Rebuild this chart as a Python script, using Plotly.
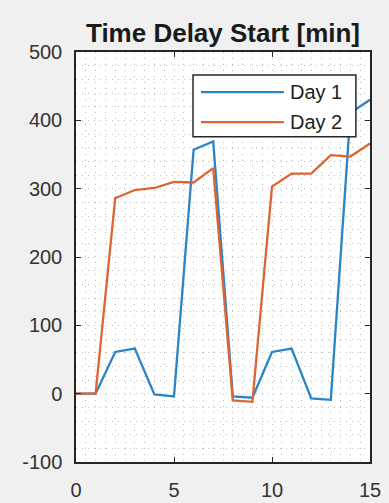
import plotly.graph_objects as go

x = list(range(16))
day1 = [0, 0, 61, 66, -1, -4, 357, 369, -4, -6, 61, 66, -7, -9, 411, 430]
day2 = [0, 0, 286, 298, 301, 310, 309, 330, -10, -12, 303, 322, 322, 349, 347, 366]
series_names = ["Day 1", "Day 2"]
colors = ["#2a84c8", "#de6433"]
title_text = "<b>Time Delay Start [min]</b>"
x_ticks = [0, 5, 10, 15]
y_ticks = [-100, 0, 100, 200, 300, 400, 500]

FONT = "Liberation Sans, Arial, sans-serif"
AX = "#262626"

fig = go.Figure()
for name, ys, c in zip(series_names, [day1, day2], colors):
    fig.add_trace(go.Scatter(x=x, y=ys, mode="lines", name=name,
                             line=dict(color=c, width=2.3), showlegend=False))

axis_common = dict(
    showline=True, linecolor=AX, linewidth=1.5, mirror="ticks",
    ticks="inside", ticklen=5, tickcolor=AX, tickwidth=1,
    tickfont=dict(family=FONT, size=20, color="#333333"),
    zeroline=False, showgrid=False, automargin=False,
)

fig.update_xaxes(range=[0, 15], tickvals=x_ticks, ticktext=[str(v) for v in x_ticks],
                 ticklabelstandoff=9,
                 minor=dict(dtick=0.5, tick0=0, showgrid=True, gridcolor="#bdbdbd",
                            griddash="1px,5px", gridwidth=1),
                 **axis_common)
fig.update_yaxes(range=[-100, 500], tickvals=y_ticks, ticktext=[str(v) for v in y_ticks],
                 ticklabelstandoff=8,
                 minor=dict(dtick=20, tick0=0, showgrid=True, gridcolor="#bdbdbd",
                            griddash="1px,5px", gridwidth=1),
                 **axis_common)

# legend box drawn in paper coordinates (MATLAB style with long line samples)
lx0, lx1, ly0, ly1 = 0.398, 0.952, 0.793, 0.944
fig.add_shape(type="rect", xref="paper", yref="paper", x0=lx0, x1=lx1, y0=ly0, y1=ly1,
              line=dict(color=AX, width=1.5), fillcolor="white", layer="above")
row_y = [0.902, 0.829]
for name, c, ry in zip(series_names, colors, row_y):
    fig.add_shape(type="line", xref="paper", yref="paper", x0=0.425, x1=0.707,
                  y0=ry, y1=ry, line=dict(color=c, width=2.3), layer="above")
    fig.add_annotation(xref="paper", yref="paper", x=0.722, y=ry, text=name,
                       showarrow=False, xanchor="left", yanchor="middle",
                       font=dict(family=FONT, size=20, color="#222222"))

fig.update_layout(
    width=389, height=503,
    margin=dict(l=76, r=19, t=52, b=41),
    paper_bgcolor="#f0f0f0", plot_bgcolor="white",
    title=dict(text=title_text, x=0.5, xanchor="center", xref="paper",
               y=1, yref="paper", yanchor="bottom", pad=dict(b=10),
               font=dict(family=FONT, size=26, color="#1a1a1a")),
    showlegend=False,
)

fig.write_html("out.html")
